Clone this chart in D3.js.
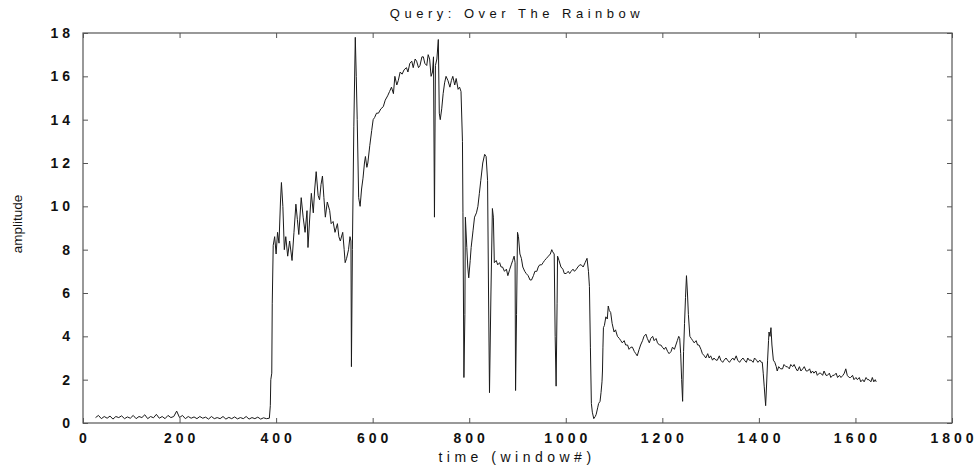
<!DOCTYPE html>
<html><head><meta charset="utf-8">
<script src="https://cdn.jsdelivr.net/npm/d3@7"></script>
<style>body{margin:0;background:#fff;} text{font-family:"Liberation Sans",Arial,sans-serif;}</style>
</head><body><svg id="c" width="977" height="470"></svg>
<script>
const titleText = "Query: Over The Rainbow";
const xLabel = "time (window#)";
const yLabel = "amplitude";
const xTicks = [0,200,400,600,800,1000,1200,1400,1600,1800];
const yTicks = [0,2,4,6,8,10,12,14,16,18];
// [window#, amplitude]
const baseline = [[26,0.25],[32,0.35],[38,0.2],[44,0.3],[50,0.22],[56,0.32],[62,0.18],[68,0.3],[74,0.25],[80,0.33],[86,0.2],[92,0.28],[98,0.22],[104,0.35],[110,0.2],[116,0.3],[122,0.25],[128,0.38],[134,0.2],[140,0.3],[146,0.24],[152,0.4],[158,0.22],[164,0.3],[170,0.2],[176,0.35],[182,0.25],[188,0.3],[194,0.55],[200,0.25],[206,0.35],[212,0.2],[218,0.3],[224,0.22],[230,0.28],[236,0.2],[242,0.3],[248,0.22],[254,0.27],[260,0.18],[266,0.3],[272,0.2],[278,0.25],[284,0.2],[290,0.3],[296,0.18],[302,0.26],[308,0.2],[314,0.28],[320,0.19],[326,0.25],[332,0.2],[338,0.3],[344,0.18],[350,0.25],[356,0.2],[362,0.27],[368,0.18],[374,0.24],[380,0.2],[386,0.22]];
const phrase1 = [[388,0.8],[389,2.0],[391,2.3],[392,5.5],[394,8.2],[397,8.6],[400,7.8],[403,8.8],[406,8.3],[409,10.2],[411,11.1],[414,10.0],[417,8.0],[420,8.6],[424,7.7],[428,8.4],[433,7.5],[437,8.8],[441,10.1],[444,9.4],[447,8.7],[452,10.4],[456,9.5],[460,8.8],[464,9.8],[466,8.1],[470,9.6],[473,10.6],[477,9.7],[480,10.8],[483,11.6],[487,10.5],[490,10.3],[493,11.0],[496,11.4],[499,10.4],[502,9.5],[506,10.2],[511,9.8],[514,9.2],[518,9.3],[522,8.8],[527,9.2],[530,8.6],[533,8.4],[538,8.8],[541,8.0],[543,7.4],[546,7.6],[550,8.0],[553,8.6],[555,8.4],[556,2.6],[558,8.0],[561,13.7],[564,17.8],[566,16.0],[568,14.0],[571,10.4],[574,10.0],[577,10.8],[580,11.3],[583,12.0],[585,12.3],[588,11.8],[590,12.0],[594,12.8],[598,13.5],[601,14.0],[604,14.1],[608,14.3],[612,14.3],[617,14.5],[622,14.6],[626,14.9],[631,15.1],[635,15.3],[639,15.5],[643,15.2],[646,16.0],[650,15.6],[653,15.8],[657,16.2],[661,16.1],[665,16.3],[670,16.4],[673,16.2],[677,16.6],[681,16.7],[684,16.4],[688,16.8],[691,16.7],[695,16.4],[698,16.5],[702,16.9],[705,16.9],[708,16.6],[712,16.5],[715,17.0],[718,16.8],[721,16.0],[724,16.2],[726,16.9],[728,9.5],[730,16.5],[733,16.8],[736,17.7],[738,14.3],[740,14.0],[743,14.5],[746,15.2],[749,15.7],[752,16.0],[756,15.8],[760,15.5],[763,15.8],[766,16.0],[770,15.6],[773,15.9],[777,15.4],[780,15.5],[783,15.3],[786,13.0],[787,9.7],[789,2.1],[791,5.0],[792,9.5],[795,8.1],[797,7.2],[799,6.7],[802,7.5],[804,8.1],[808,8.9],[811,9.5],[815,9.7],[818,10.0],[821,10.6],[824,11.2],[828,12.0],[832,12.4],[835,12.3],[838,11.2],[840,6.0],[842,1.4],[845,6.0],[848,9.9],[850,9.5],[852,7.4]];
const phrase2 = [[856,7.5],[859,7.3],[863,7.4],[866,7.2],[869,7.2],[873,7.0],[877,7.1],[880,6.8],[884,7.1],[887,7.3],[890,7.5],[893,7.7],[895,7.4],[896,1.5],[898,5.0],[900,8.8],[902,8.6],[905,7.8],[908,7.6],[911,7.2],[915,7.0],[918,6.9],[922,6.8],[926,6.6],[929,6.6],[933,6.8],[936,7.0],[940,7.0],[943,7.2],[946,7.3],[950,7.3],[953,7.4],[956,7.5],[960,7.6],[964,7.7],[968,7.8],[971,8.0],[973,7.9],[976,7.8],[978,4.0],[980,1.7],[982,5.5],[983,7.7],[986,7.5],[990,7.2],[994,7.1],[997,6.9],[1001,6.9],[1005,7.0],[1008,6.9],[1011,7.0],[1015,7.1],[1018,7.0],[1022,7.1],[1025,7.2],[1029,7.3],[1032,7.3],[1036,7.2],[1040,7.4],[1044,7.6],[1047,7.0],[1049,6.3],[1051,3.5],[1053,0.9],[1055,0.5],[1058,0.2],[1061,0.3],[1063,0.4],[1066,0.7],[1068,0.9],[1071,1.0],[1073,1.4],[1075,1.9],[1076,2.4],[1077,3.5],[1078,4.4],[1080,4.5],[1083,4.9],[1086,4.8],[1088,5.4],[1090,5.2],[1093,5.1],[1096,4.6],[1100,4.2],[1103,4.3],[1107,4.0],[1111,3.9],[1114,3.8],[1117,3.7],[1121,3.8],[1124,3.6],[1128,3.6],[1131,3.4],[1135,3.5],[1138,3.5],[1142,3.3],[1145,3.2],[1148,3.1],[1152,3.4],[1155,3.6],[1159,3.8],[1162,4.0],[1166,4.1],[1169,3.9],[1173,3.7],[1176,3.9],[1180,4.0],[1183,3.8],[1187,3.9],[1190,3.7],[1194,3.6],[1197,3.6],[1200,3.5],[1204,3.4],[1207,3.5],[1211,3.3],[1214,3.2],[1218,3.3],[1221,3.5],[1225,3.4],[1228,3.6],[1231,3.8],[1234,4.0],[1236,3.9],[1238,3.2],[1240,2.0],[1242,1.0],[1244,3.3],[1246,4.6],[1248,5.8],[1250,6.8],[1252,6.0],[1254,5.0],[1257,4.0]];
const phrase3 = [[1260,3.9],[1263,3.8],[1266,3.7],[1270,3.8],[1273,3.6],[1276,3.6],[1280,3.4],[1283,3.2],[1287,3.1],[1290,3.0],[1294,3.2],[1297,3.0],[1300,3.1],[1304,2.9],[1307,3.0],[1311,2.9],[1314,2.9],[1318,3.1],[1321,2.9],[1325,2.8],[1328,2.9],[1332,3.0],[1335,2.9],[1339,2.8],[1342,2.9],[1346,3.0],[1349,2.9],[1353,3.1],[1356,2.9],[1360,2.8],[1363,2.9],[1367,3.0],[1370,2.9],[1374,2.8],[1377,3.0],[1380,2.9],[1384,2.9],[1388,2.8],[1391,3.0],[1395,2.9],[1398,2.8],[1402,2.9],[1405,2.8],[1407,2.8],[1409,2.3],[1411,1.7],[1414,0.8],[1416,1.8],[1418,2.9],[1420,3.8],[1421,4.2],[1423,4.0],[1425,4.4],[1427,3.6],[1430,2.9],[1433,2.8],[1436,2.6],[1438,2.4],[1441,2.6],[1445,2.5],[1449,2.5],[1452,2.7],[1456,2.6],[1459,2.6],[1463,2.5],[1466,2.7],[1470,2.6],[1473,2.7],[1477,2.5],[1480,2.4],[1484,2.6],[1487,2.4],[1491,2.5],[1494,2.6],[1498,2.4],[1501,2.4],[1505,2.5],[1508,2.3],[1511,2.4],[1514,2.3],[1518,2.4],[1521,2.2],[1525,2.3],[1528,2.3],[1532,2.2],[1535,2.4],[1539,2.2],[1542,2.2],[1546,2.3],[1549,2.1],[1553,2.2],[1556,2.2],[1560,2.3],[1563,2.1],[1567,2.2],[1570,2.1],[1574,2.2],[1577,2.3],[1580,2.5],[1583,2.2],[1587,2.1],[1590,2.1],[1594,2.2],[1597,2.0],[1601,2.1],[1604,2.0],[1608,2.1],[1611,1.9],[1615,2.0],[1618,1.9],[1622,2.1],[1625,2.0],[1628,2.0],[1632,1.9],[1635,2.1],[1638,1.9],[1641,2.0],[1643,1.9]];

const trace = baseline.concat(phrase1, phrase2, phrase3);

const svg = d3.select("#c");
const L = 83, R = 952, T = 33, B = 423;
const x = d3.scaleLinear().domain([0,1800]).range([L,R]);
const y = d3.scaleLinear().domain([0,18]).range([B,T]);
const axisColor = "#555";
const tickFont = {size: "14px", weight: "bold", ls: 4};

// frame
svg.append("rect").attr("x",L).attr("y",T).attr("width",R-L).attr("height",B-T)
  .attr("fill","none").attr("stroke",axisColor).attr("stroke-width",1.2);

// axes with inward ticks (mirrored)
const styleAxis = g => { g.select(".domain").remove(); g.selectAll("line").attr("stroke",axisColor); };
svg.append("g").attr("transform",`translate(0,${B})`)
  .call(d3.axisTop(x).tickValues(xTicks).tickSize(5).tickFormat(""))
  .call(styleAxis);
svg.append("g").attr("transform",`translate(0,${T})`)
  .call(d3.axisBottom(x).tickValues(xTicks).tickSize(5).tickFormat(""))
  .call(styleAxis);
svg.append("g").attr("transform",`translate(${L},0)`)
  .call(d3.axisRight(y).tickValues(yTicks).tickSize(5).tickFormat(""))
  .call(styleAxis);
svg.append("g").attr("transform",`translate(${R},0)`)
  .call(d3.axisLeft(y).tickValues(yTicks).tickSize(5).tickFormat(""))
  .call(styleAxis);

// tick labels
svg.append("g").selectAll("text").data(xTicks).join("text")
  .attr("x",d=>x(d)).attr("dx", tickFont.ls/2).attr("y",443)
  .attr("text-anchor","middle").attr("font-size",tickFont.size).attr("font-weight",tickFont.weight)
  .attr("letter-spacing",tickFont.ls).attr("fill","#111").text(d=>d);
svg.append("g").selectAll("text").data(yTicks).join("text")
  .attr("x",70).attr("dx", tickFont.ls).attr("y",d=>y(d)).attr("dy","0.36em")
  .attr("text-anchor","end").attr("font-size",tickFont.size).attr("font-weight",tickFont.weight)
  .attr("letter-spacing",tickFont.ls).attr("fill","#111").text(d=>d);

// title and axis labels
svg.append("text").attr("x",517).attr("y",18).attr("text-anchor","middle")
  .attr("font-size","13px").attr("letter-spacing",4.5).attr("fill","#111").text(titleText);
svg.append("text").attr("x",517).attr("y",462).attr("text-anchor","middle")
  .attr("font-size","14px").attr("letter-spacing",4.5).attr("fill","#111").text(xLabel);
svg.append("text").attr("transform","translate(22,224) rotate(-90)").attr("text-anchor","middle")
  .attr("font-size","13.5px").attr("fill","#111").text(yLabel);

// trace
const line = d3.line().x(d=>x(d[0])).y(d=>y(d[1]));
svg.append("path").datum(trace).attr("d",line).attr("fill","none")
  .attr("stroke","#1a1a1a").attr("stroke-width",1).attr("stroke-linejoin","round");
</script></body></html>
